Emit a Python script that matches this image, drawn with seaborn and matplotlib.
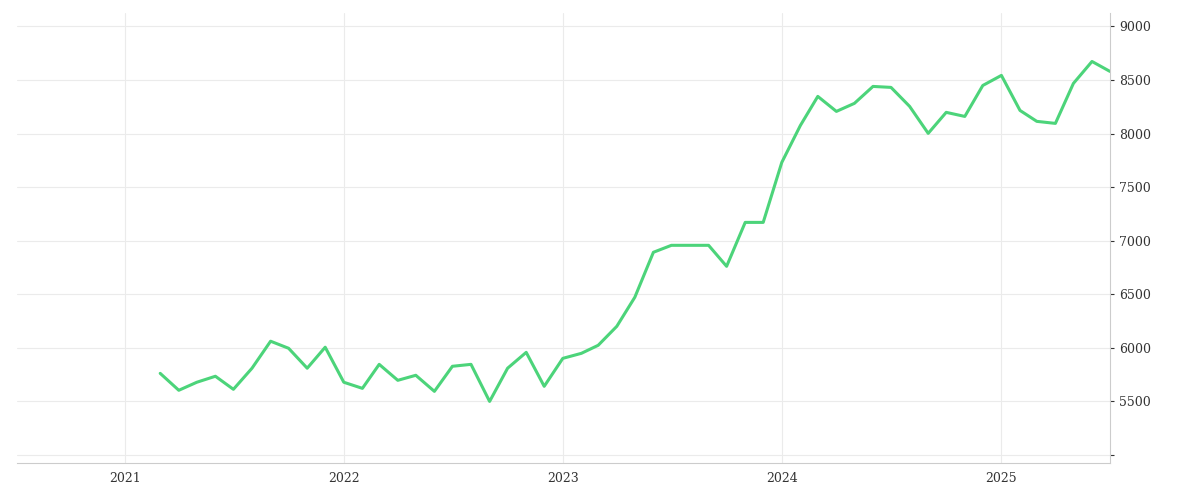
import matplotlib
matplotlib.use("Agg")
import matplotlib.pyplot as plt
import seaborn as sns
import pandas as pd
import numpy as np

dates = pd.date_range("2021-03-01", "2025-07-01", freq="MS")
values = [5762,5604,5679,5735,5613,5810,6062,5996,5810,6006,
          5679,5622,5846,5697,5744,5594,5828,5846,5500,5810,5958,5641,
          5902,5949,6024,6201,6472,6892,6957,6957,6957,6761,7171,7171,
          7731,8076,8347,8207,8282,8440,8431,8254,8002,8198,8160,8449,
          8543,8216,8114,8095,8468,8673,8580]
df = pd.DataFrame({"date": dates, "value": values})

sns.set_style("white")
plt.rcParams['font.family'] = ['DejaVu Serif']
fig, ax = plt.subplots(figsize=(12, 5), dpi=100)
fig.subplots_adjust(left=0.014, right=0.925, top=0.975, bottom=0.075)
sns.lineplot(data=df, x="date", y="value", color="#4cd47a", linewidth=2.2, ax=ax)
ax.set_xlim(pd.Timestamp("2020-07-05"), pd.Timestamp("2025-07-01"))
ax.set_ylim(4930, 9130)
ax.set_yticks([5000,5500,6000,6500,7000,7500,8000,8500,9000])
ax.set_yticklabels(["","5500","6000","6500","7000","7500","8000","8500","9000"])
ax.set_xticks([pd.Timestamp(f"{y}-01-01") for y in range(2021, 2026)])
ax.set_xticklabels([str(y) for y in range(2021, 2026)])
ax.yaxis.tick_right()
ax.grid(True, color="#ebebeb", linewidth=0.8)
ax.tick_params(labelsize=9, colors="#333333", length=3)
for s in ["top", "left"]:
    ax.spines[s].set_visible(False)
ax.spines["right"].set_color("#cccccc")
ax.spines["bottom"].set_color("#cccccc")
ax.set_xlabel("")
ax.set_ylabel("")
fig.savefig("out.png")
